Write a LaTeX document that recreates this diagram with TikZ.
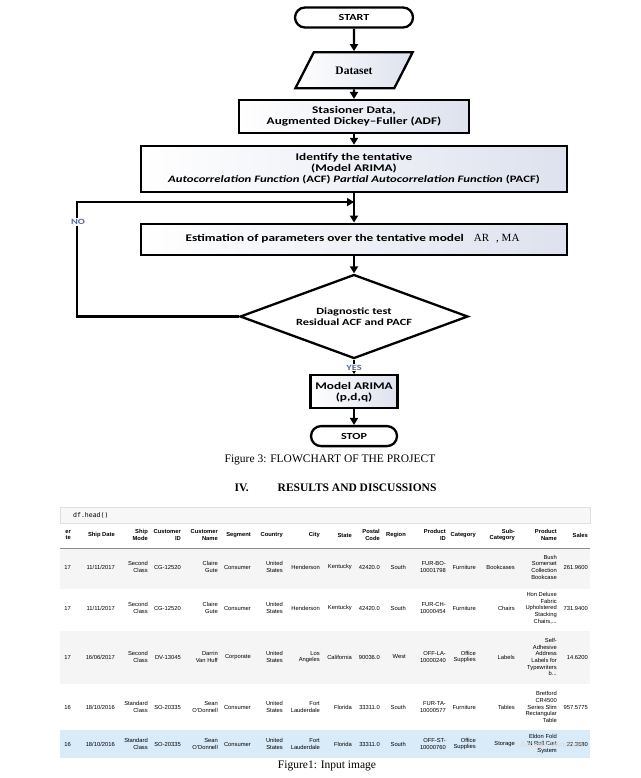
\documentclass[tikz,border=0pt]{standalone}
\usepackage{fontspec}
\setmainfont{Liberation Serif}
\setsansfont{Liberation Sans}
\setmonofont{DejaVu Sans Mono}
\newfontfamily\chartfont[FakeStretch=1.3]{Carlito}
\usetikzlibrary{arrows.meta, positioning, calc, shapes.geometric}

\definecolor{boxshade}{RGB}{222,226,238}
\definecolor{answerblue}{RGB}{79,108,160}
\definecolor{rowgray}{RGB}{245,245,245}
\definecolor{rowhover}{RGB}{217,234,248}
\definecolor{cellgray}{RGB}{247,247,247}
\definecolor{celledge}{RGB}{224,224,224}

\begin{document}
\begin{tikzpicture}[
  x=1pt, y=-1pt,
  terminal/.style = {draw, line width=2.3pt, rounded corners=10pt, fill=white, minimum height=20pt, font=\chartfont\bfseries\fontsize{9.3}{9.3}\selectfont},
  block/.style = {draw, line width=2.3pt, left color=white, right color=boxshade, align=center, inner sep=2pt, font=\chartfont\bfseries\fontsize{10.2}{11}\selectfont},
  dataset/.style = {trapezium, trapezium left angle=55, trapezium right angle=125, trapezium stretches=true, draw, line width=2.3pt, left color=white, right color=boxshade, minimum width=118pt, minimum height=36pt, font=\rmfamily\bfseries\fontsize{11.5}{11.5}\selectfont},
  decision/.style = {diamond, aspect=2.7, draw, line width=2.3pt, fill=white, inner sep=0pt, minimum width=228pt, minimum height=84pt, align=center, font=\chartfont\bfseries\fontsize{9.5}{11.5}\selectfont},
  answer/.style = {text=answerblue, fill=white, inner sep=1pt, font=\chartfont\bfseries\fontsize{8}{8}\selectfont},
  arrow/.style = {line width=2.3pt, -{Triangle[width=8pt,length=7pt]}},
  caption/.style = {font=\rmfamily\fontsize{11.5}{11.5}\selectfont},
  cell/.style = {anchor=east, align=right, inner sep=0pt, font=\sffamily\fontsize{5.8}{6.7}\selectfont},
  headcell/.style = {cell, font=\sffamily\bfseries\fontsize{5.8}{6.7}\selectfont}
]
\useasboundingbox (0,0) rectangle (640,778);

  % Start
  \node[terminal, minimum width=118pt] (start) at (354,17.5) {START};

  % Dataset
  \node[dataset, below=22.5pt of start] (dataset) {Dataset};

  % Stationary data
  \node[block, minimum width=230pt, minimum height=33pt, below=9.5pt of dataset] (stasioner) {
    Stasioner Data,\\
    Augmented Dickey–Fuller (ADF)
  };

  % Identify the tentative model
  \node[block, minimum width=426pt, minimum height=46pt, below=10.5pt of stasioner] (identify) {
    Identify the tentative\\
    (Model ARIMA)\\
    {\fontsize{9.8}{11}\selectfont{\itshape Autocorrelation Function} (ACF) {\itshape Partial Autocorrelation Function} (PACF)}
  };

  % Estimation
  \node[block, minimum width=426pt, minimum height=31pt, below=29.5pt of identify] (estimation) {
    Estimation of parameters over the tentative model\hspace{10pt}{\rmfamily\mdseries\fontsize{11}{11}\selectfont AR\hspace{7pt}, MA}
  };

  % Diagnostic test
  \node[decision, below=17.5pt of estimation] (diagnostic) {
    Diagnostic test\\
    Residual ACF and PACF
  };

  % Model ARIMA
  \node[block, minimum width=87pt, minimum height=33pt, below=14.5pt of diagnostic] (model) {
    Model ARIMA\\
    (p,d,q)
  };

  % Stop
  \node[terminal, minimum width=86pt, below=15.5pt of model] (stop) {STOP};

  % main flow
  \draw[arrow] (start) -- (dataset);
  \draw[arrow] (dataset) -- (stasioner);
  \draw[arrow] (stasioner) -- (identify);
  \draw[arrow] (identify) -- (estimation);
  \draw[arrow] (estimation) -- (diagnostic);
  \draw[arrow] (diagnostic) -- node[answer, pos=0.55] (yes) {YES} (model);
  \draw[arrow] (model) -- (stop);

  % NO loop back to estimation
  \coordinate[below=9pt of identify] (loopin);
  \coordinate (loopside) at (77,0);
  \draw[arrow] (diagnostic.west) -- (diagnostic.west -| loopside) |- (loopin);
  \node[answer] (no) at (78,222) {NO};

  % captions
  \node[caption] (flowcap) at (330,460) {Figure 3: FLOWCHART OF THE PROJECT};
  \node[caption, font=\rmfamily\bfseries\fontsize{11.5}{11.5}\selectfont] (section) at (335.5,488) {IV.\hspace{29pt}RESULTS AND DISCUSSIONS};

  % input cell
  \fill[cellgray] (60,507) rectangle (590,523);
  \draw[celledge, line width=0.6pt] (60,507) rectangle (590,523);
  \node[anchor=west, inner sep=0pt, font=\ttfamily\fontsize{6.5}{6.5}\selectfont] (code) at (73,515) {df.head()};

  % table rows
  \fill[rowgray] (60,548) rectangle (590,589);
  \fill[rowgray] (60,631) rectangle (590,684);
  \fill[rowhover] (60,730) rectangle (590,758);
  \draw[black!45, line width=0.8pt] (60,548) -- (590,548);

  % header
  \foreach \x/\t [count=\c] in {71/{er\\te}, 115/Ship Date, 148/{Ship\\Mode}, 181/{Customer\\ID}, 218/{Customer\\Name},
      251/Segment, 283/Country, 320/City, 352/State, 380/{Postal\\Code}, 406/Region, 446/{Product\\ID},
      476/Category, 515/{Sub-\\Category}, 557/{Product\\Name}, 588/Sales}
    \node[headcell] (h\c) at (\x,535) {\t};

  % rows
  \foreach \x/\t [count=\c] in {71/17, 115/{11/11/2017}, 148/{Second\\Class}, 181/CG-12520, 218/{Claire\\Gute},
      251/Consumer, 283/{United\\States}, 320/Henderson, 352/Kentucky, 380/42420.0, 406/South, 446/{FUR-BO-\\10001798},
      476/Furniture, 515/Bookcases, 557/{Bush\\Somerset\\Collection\\Bookcase}, 588/261.9600}
    \node[cell] (ra\c) at (\x,567) {\t};
  \foreach \x/\t [count=\c] in {71/17, 115/{11/11/2017}, 148/{Second\\Class}, 181/CG-12520, 218/{Claire\\Gute},
      251/Consumer, 283/{United\\States}, 320/Henderson, 352/Kentucky, 380/42420.0, 406/South, 446/{FUR-CH-\\10000454},
      476/Furniture, 515/Chairs, 557/{Hon Deluxe\\Fabric\\Upholstered\\Stacking\\Chairs,...}, 588/731.9400}
    \node[cell] (rb\c) at (\x,608) {\t};
  \foreach \x/\t [count=\c] in {71/17, 115/{16/06/2017}, 148/{Second\\Class}, 181/DV-13045, 218/{Darrin\\Van Huff},
      251/Corporate, 283/{United\\States}, 320/{Los\\Angeles}, 352/California, 380/90036.0, 406/West, 446/{OFF-LA-\\10000240},
      476/{Office\\Supplies}, 515/Labels, 557/{Self-\\Adhesive\\Address\\Labels for\\Typewriters\\b...}, 588/14.6200}
    \node[cell] (rc\c) at (\x,657) {\t};
  \foreach \x/\t [count=\c] in {71/16, 115/{18/10/2016}, 148/{Standard\\Class}, 181/SO-20335, 218/{Sean\\O'Donnell},
      251/Consumer, 283/{United\\States}, 320/{Fort\\Lauderdale}, 352/Florida, 380/33311.0, 406/South, 446/{FUR-TA-\\10000577},
      476/Furniture, 515/Tables, 557/{Bretford\\CR4500\\Series Slim\\Rectangular\\Table}, 588/957.5775}
    \node[cell] (rd\c) at (\x,707) {\t};
  \foreach \x/\t [count=\c] in {71/16, 115/{18/10/2016}, 148/{Standard\\Class}, 181/SO-20335, 218/{Sean\\O'Donnell},
      251/Consumer, 283/{United\\States}, 320/{Fort\\Lauderdale}, 352/Florida, 380/33311.0, 406/South, 446/{OFF-ST-\\10000760},
      476/{Office\\Supplies}, 515/Storage, 557/{Eldon Fold\\'N Roll Cart\\System}, 588/22.3680}
    \node[cell] (re\c) at (\x,744) {\t};

  % watermark
  \node[anchor=west, inner sep=0pt, text=black!15, font=\sffamily\fontsize{8}{8}\selectfont] (watermark) at (520,745) {Activate Windows};

  \node[caption] (tablecap) at (327,766) {Figure1: Input image};

\end{tikzpicture}
\end{document}
